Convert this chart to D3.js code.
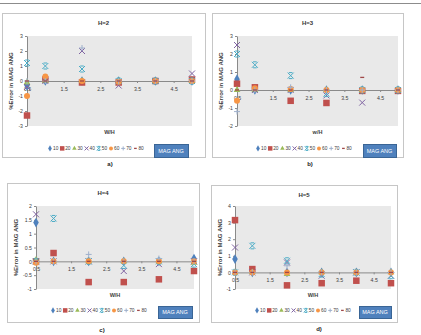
<!DOCTYPE html>
<html>
<head>
<meta charset="utf-8">
<script src="https://cdn.jsdelivr.net/npm/d3@7"></script>
<style>
  body { margin: 0; background: #fff; }
  text { font-family: "Liberation Sans", Arial, sans-serif; }
</style>
</head>
<body>
<div id="chart"></div>
<script>
// W/H categories shared by all four charts
var categories = [0.5, 1, 2, 3, 4, 5];
var seriesNames = ["10", "20", "30", "40", "50", "60", "70", "80"];
var xTickValues = [0.5, 1.5, 2.5, 3.5, 4.5];

// % error values, one row per series (10..80), one column per category
var h2Values = [
    [-0.3, 0, 0, 0, 0, 0],
    [-2.3, 0.1, -0.1, -0.1, 0, 0.1],
    [-0.1, 0, 0, 0, 0, 0],
    [-0.4, 0, 2.0, -0.3, 0, 0.5],
    [1.2, 1.0, 0.8, 0, 0, 0],
    [-1.0, 0.3, 0, -0.05, 0, 0],
    [0, 0, 2.2, 0, 0, 0],
    [0, 0, 0, 0, 0, 0]
];
var h3Values = [
    [0.6, 0, 0, 0, 0, 0],
    [0.35, 0.15, -0.6, -0.72, -0.05, -0.05],
    [0, 0, 0, 0, 0, 0],
    [2.5, 0, 0, -0.3, -0.7, 0],
    [2.0, 1.4, 0.8, -0.2, 0, 0],
    [-0.6, 0.1, 0.05, 0, 0, 0],
    [-1.2, 0, 0.15, 0, 0, 0],
    [0, 0, 0, 0, 0.7, 0]
];
var h4Values = [
    [1.4, 0, 0, 0, 0, 0.1],
    [0, 0.3, -0.75, -0.75, -0.65, -0.35],
    [0.05, 0, 0, 0, 0, -0.05],
    [1.7, 0, 0, -0.35, -0.1, 0],
    [0, 1.55, 0, -0.15, 0, -0.1],
    [-0.05, 0, 0, 0, 0, 0],
    [0, 0, 0.25, 0, 0.1, 0],
    [0, 0, 0, 0, 0, 0]
];
var h5Values = [
    [0.8, 0, 0, 0, 0, 0],
    [3.15, 0.2, -0.78, -0.65, -0.5, -0.65],
    [0, 0, -0.1, 0, 0, 0],
    [1.5, 0, 0.6, -0.2, 0, -0.2],
    [0, 1.6, 0.7, -0.1, 0, -0.2],
    [0, 0, 0, 0, 0, 0],
    [0, 0, 0.4, 0, 0, 0],
    [0, 0, 0, 0, 0, 0]
];

var colors = ["#4f81bd", "#c0504d", "#9bbb59", "#8064a2", "#4bacc6", "#f79646", "#9fb0cc", "#a04848"];
var shapes = ["diamond", "square", "triangle", "x", "star", "circle", "plus", "dash"];

var panels = [
    {title: "H=2", xTitle: "W/H", caption: "a)", values: h2Values, yMin: -3, yMax: 3, yStep: 1,
     frame: [2, 13, 205, 157], plot: [27, 36, 192, 126], legendX: 50, legendY: 150,
     button: [154, 144, 188, 157], captionPos: [110, 166]},
    {title: "H=3", xTitle: "w/H", caption: "b)", values: h3Values, yMin: -2, yMax: 3, yStep: 1,
     frame: [212, 13, 403, 157], plot: [237, 36, 398, 126], legendX: 258, legendY: 150,
     button: [363, 144, 396, 157], captionPos: [310, 166]},
    {title: "H=4", xTitle: "W/H", caption: "c)", values: h4Values, yMin: -1, yMax: 2, yStep: 0.5,
     frame: [7, 183, 199, 322], plot: [36, 206, 194, 289], legendX: 53, legendY: 312,
     button: [158, 306, 192, 318], captionPos: [102, 332]},
    {title: "H=5", xTitle: "W/H", caption: "d)", values: h5Values, yMin: -1, yMax: 4, yStep: 1,
     frame: [211, 185, 397, 322], plot: [235, 206, 391, 289], legendX: 257, legendY: 312,
     button: [359, 306, 391, 318], captionPos: [319, 331]}
];

var svg = d3.select("#chart").append("svg")
    .attr("width", 421)
    .attr("height", 335);

svg.append("line")
    .attr("x1", 0).attr("x2", 421)
    .attr("y1", 3.5).attr("y2", 3.5)
    .attr("stroke", "#8c8c8c")
    .attr("stroke-width", 1);

// draws one marker of the given shape centred at 0,0
var drawMarker = function(g, shape, color, s) {
    if (shape == "diamond") {
        g.append("path").attr("d", d3.symbol(d3.symbolDiamond, s * s * 0.75)()).attr("fill", color);
    } else if (shape == "square") {
        g.append("rect").attr("x", -s / 2).attr("y", -s / 2).attr("width", s).attr("height", s).attr("fill", color);
    } else if (shape == "triangle") {
        g.append("path").attr("d", d3.symbol(d3.symbolTriangle, s * s * 0.55)()).attr("fill", color);
    } else if (shape == "circle") {
        g.append("circle").attr("r", s / 2).attr("fill", color);
    } else if (shape == "x") {
        var h = s / 2;
        g.append("path").attr("d", "M" + -h + "," + -h + "L" + h + "," + h + "M" + -h + "," + h + "L" + h + "," + -h)
            .attr("stroke", color).attr("stroke-width", 1).attr("fill", "none");
    } else if (shape == "star") {
        var k = s / 2;
        g.append("path").attr("d", "M" + -k + "," + -k + "L" + k + "," + k + "M" + -k + "," + k + "L" + k + "," + -k +
            "M" + (-k * 0.6) + "," + -k + "L" + (k * 0.6) + "," + -k + "M" + (-k * 0.6) + "," + k + "L" + (k * 0.6) + "," + k)
            .attr("stroke", color).attr("stroke-width", 1).attr("fill", "none");
    } else if (shape == "plus") {
        var p = s / 2;
        g.append("path").attr("d", "M" + -p + ",0L" + p + ",0M0," + -p + "L0," + p)
            .attr("stroke", color).attr("stroke-width", 1).attr("fill", "none");
    } else if (shape == "dash") {
        g.append("path").attr("d", "M" + (-s / 3) + ",0L" + (s / 3) + ",0")
            .attr("stroke", color).attr("stroke-width", 1.3).attr("fill", "none");
    }
};

var fmt = function(d) { return String(d); };

var createPanel = function(cfg) {
    var f = cfg.frame, p = cfg.plot;

    svg.append("rect")
        .attr("x", f[0] + 0.5).attr("y", f[1] + 0.5)
        .attr("width", f[2] - f[0]).attr("height", f[3] - f[1])
        .attr("fill", "#fff").attr("stroke", "#c6c6c6");

    svg.append("rect")
        .attr("x", p[0]).attr("y", p[1])
        .attr("width", p[2] - p[0]).attr("height", p[3] - p[1])
        .attr("fill", "#e9e9e9");

    var x = d3.scaleLinear().domain([0.5, 5]).range([p[0], p[2]]);
    var y = d3.scaleLinear().domain([cfg.yMin, cfg.yMax]).range([p[3], p[1]]);

    // title
    svg.append("text").text(cfg.title)
        .attr("x", (f[0] + f[2]) / 2).attr("y", f[1] + 12)
        .attr("text-anchor", "middle")
        .style("font-size", "6px").style("font-weight", "bold")
        .attr("fill", "#333");

    // y axis
    var yTicks = d3.range(cfg.yMin, cfg.yMax + cfg.yStep / 2, cfg.yStep);
    var yAxis = svg.append("g")
        .attr("transform", "translate(" + p[0] + ",0)")
        .call(d3.axisLeft(y).tickValues(yTicks).tickFormat(fmt).tickSize(2).tickSizeOuter(0).tickPadding(2));
    yAxis.selectAll("path, line").attr("stroke", "#8a8a8a");
    yAxis.selectAll("text").style("font-size", "5.2px").attr("fill", "#404040").style("font-family", "Liberation Sans, Arial, sans-serif");

    // x axis sits on the zero line
    var xAxis = svg.append("g")
        .attr("transform", "translate(0," + y(0) + ")")
        .call(d3.axisBottom(x).tickValues(xTickValues).tickFormat(fmt).tickSize(2).tickSizeOuter(0).tickPadding(4));
    xAxis.selectAll("path, line").attr("stroke", "#8a8a8a");
    xAxis.selectAll("text").style("font-size", "5.2px").attr("fill", "#404040").style("font-family", "Liberation Sans, Arial, sans-serif");

    // axis titles
    svg.append("text").text(cfg.xTitle)
        .attr("x", (p[0] + p[2]) / 2).attr("y", p[3] + 8)
        .attr("text-anchor", "middle")
        .style("font-size", "5.5px").style("font-weight", "bold")
        .attr("fill", "#404040");

    svg.append("text").text("%Error in MAG ANG")
        .attr("transform", "translate(" + (f[0] + 11) + "," + ((p[1] + p[3]) / 2) + ") rotate(-90)")
        .attr("text-anchor", "middle")
        .style("font-size", "6px").style("font-weight", "bold")
        .attr("fill", "#404040");

    // markers
    cfg.values.forEach(function(row, si) {
        var g = svg.append("g");
        g.selectAll("g").data(row).enter().append("g")
            .attr("transform", function(d, i) { return "translate(" + x(categories[i]) + "," + y(d) + ")"; })
            .each(function() {
                var size = shapes[si] == "square" ? 6.5 : 6;
                drawMarker(d3.select(this), shapes[si], colors[si], size);
            });
    });

    // legend
    seriesNames.forEach(function(name, si) {
        var lx = cfg.legendX + si * 12.2;
        var mg = svg.append("g").attr("transform", "translate(" + lx + "," + (cfg.legendY - 1.6) + ")");
        drawMarker(mg, shapes[si], colors[si], shapes[si] == "square" ? 4.5 : 4);
        svg.append("text").text(name)
            .attr("x", lx + 3).attr("y", cfg.legendY)
            .style("font-size", "4.8px")
            .attr("fill", "#404040");
    });

    // MAG ANG button
    var b = cfg.button;
    svg.append("rect")
        .attr("x", b[0] + 0.5).attr("y", b[1] + 0.5)
        .attr("width", b[2] - b[0]).attr("height", b[3] - b[1])
        .attr("fill", "#4f81bd").attr("stroke", "#3a6595");
    svg.append("text").text("MAG ANG")
        .attr("x", (b[0] + b[2]) / 2).attr("y", (b[1] + b[3]) / 2 + 2.2)
        .attr("text-anchor", "middle")
        .style("font-size", "5.5px")
        .attr("fill", "#fff");

    // caption
    svg.append("text").text(cfg.caption)
        .attr("x", cfg.captionPos[0]).attr("y", cfg.captionPos[1])
        .attr("text-anchor", "middle")
        .style("font-size", "6px").style("font-weight", "bold")
        .attr("fill", "#222");
};

panels.forEach(createPanel);
</script>
</body>
</html>
